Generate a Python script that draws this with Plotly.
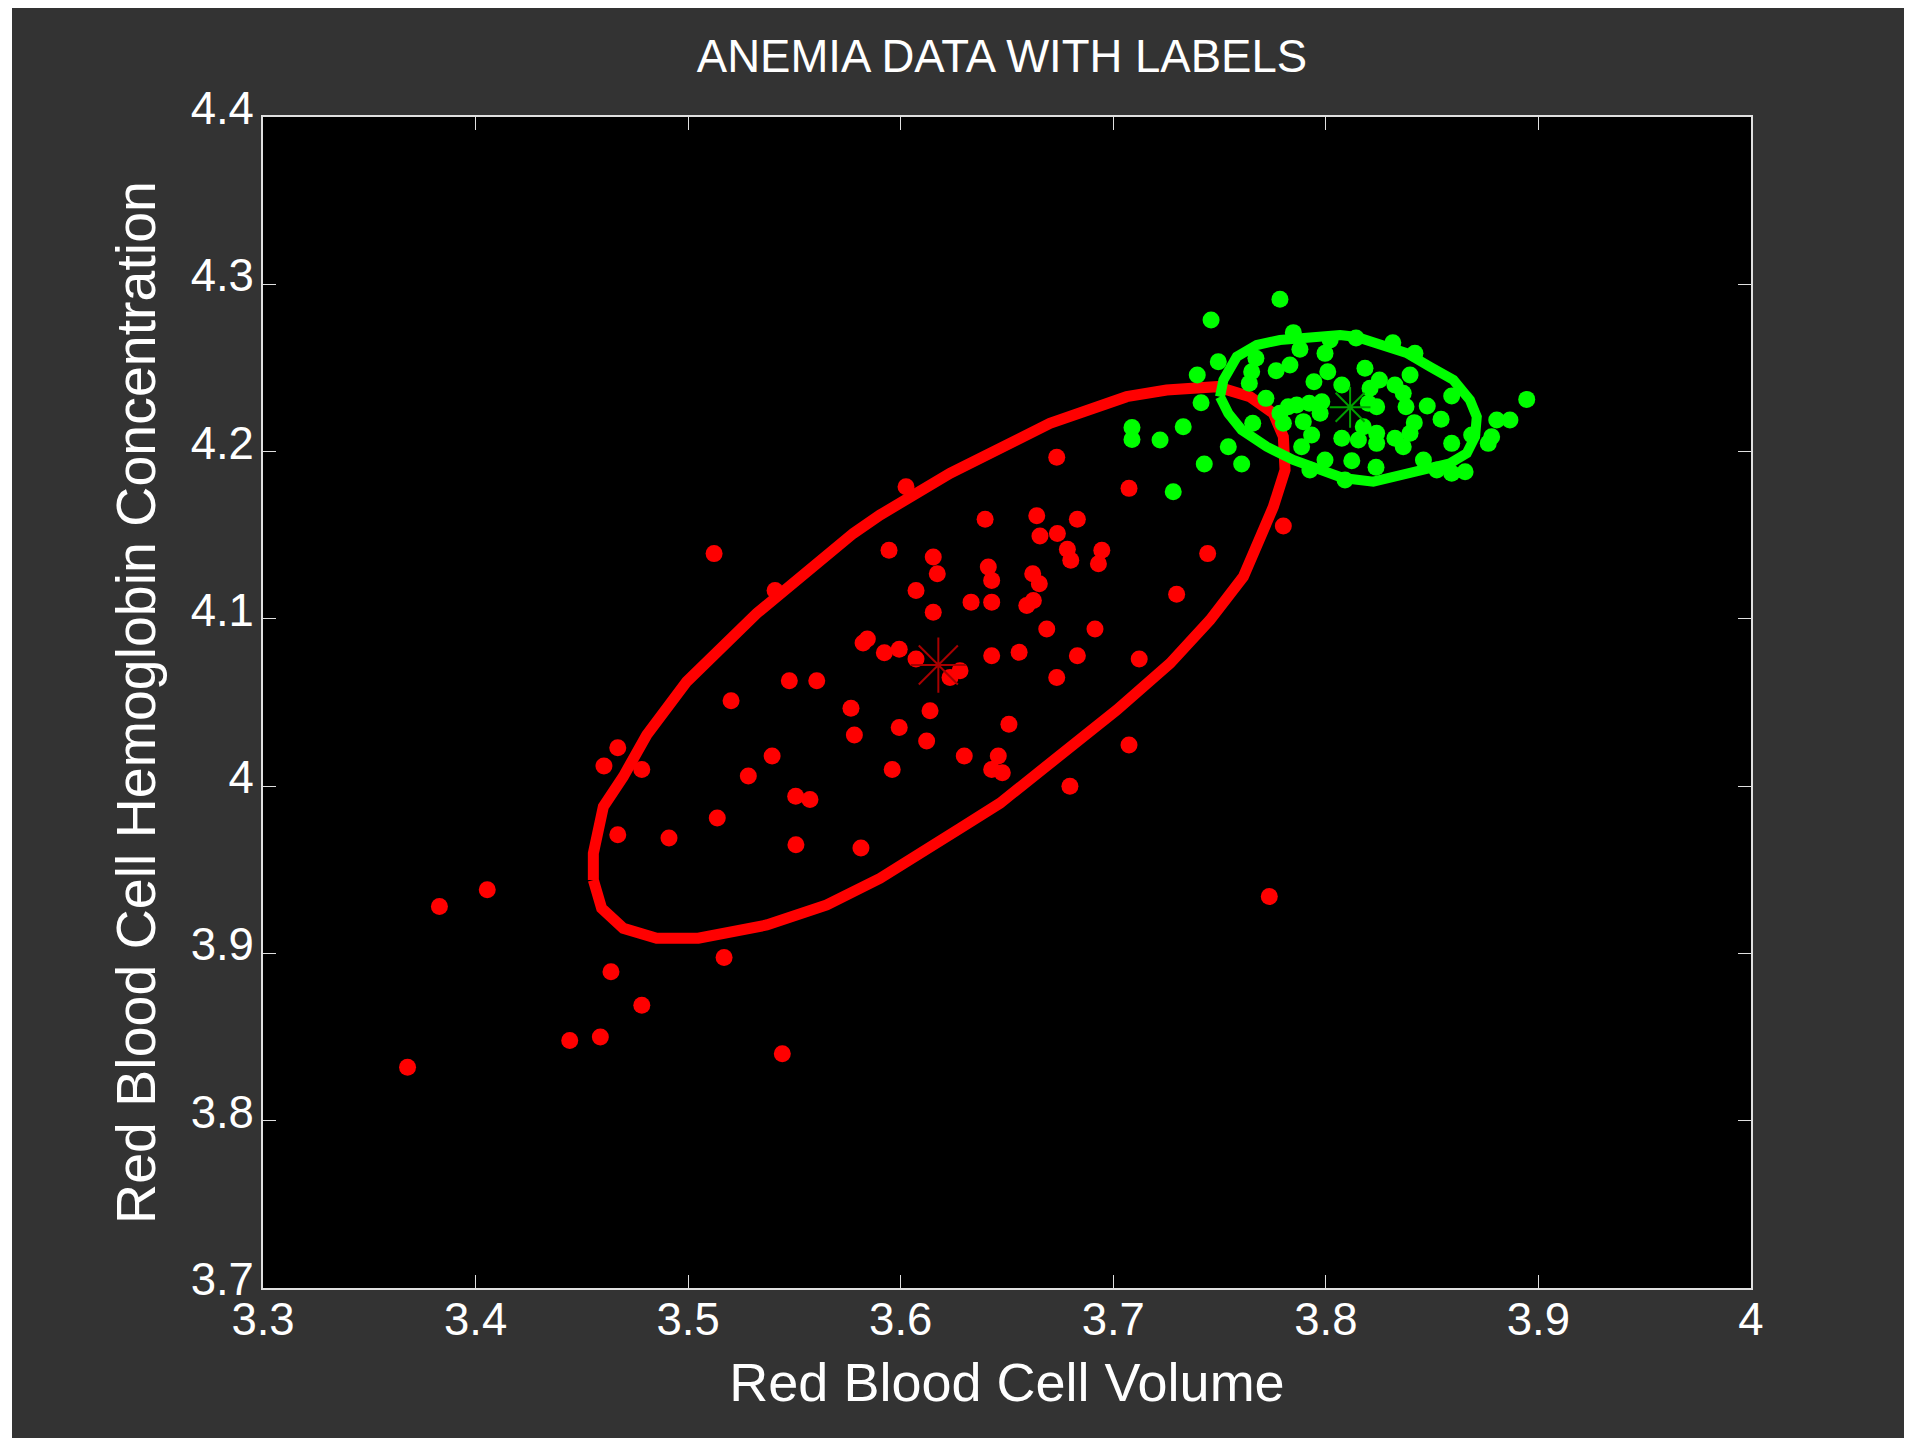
import plotly.graph_objects as go

# ---------------- data ----------------
red_x = [3.368, 3.383, 3.4055, 3.4443, 3.4587, 3.4637, 3.4782, 3.5169, 3.5443, 3.7734,
         3.4604, 3.4669, 3.4782, 3.4669, 3.4910, 3.5137, 3.5122, 3.5409, 3.5202, 3.5283,
         3.5395, 3.5476, 3.5605, 3.5506, 3.5573, 3.5507, 3.5813, 3.5766, 3.5782, 3.5843,
         3.5823, 3.5923, 3.5993, 3.5945, 3.6025, 3.6072, 3.6072, 3.6153, 3.6172, 3.6153,
         3.6232, 3.6279, 3.6331, 3.6397, 3.6412, 3.6428, 3.6428, 3.6428, 3.6138, 3.5993,
         3.6122, 3.5960, 3.6299, 3.6459, 3.6428, 3.6478, 3.6509, 3.6557, 3.6593, 3.6624,
         3.6621, 3.6652, 3.6640, 3.6655, 3.6737, 3.6734, 3.6687, 3.6734, 3.6784, 3.6800,
         3.6831, 3.6831, 3.6796, 3.6914, 3.6946, 3.6930, 3.7074, 3.7074, 3.7122, 3.7298,
         3.7444, 3.7800]
red_y = [3.832, 3.928, 3.938, 3.848, 3.850, 3.889, 3.869, 3.8975, 3.840, 3.934,
         4.012, 4.023, 4.010, 3.971, 3.969, 3.981, 4.139, 4.117, 4.051, 4.006,
         4.018, 4.063, 4.063, 3.994, 3.992, 3.965, 3.963, 4.0465, 4.0306, 4.088,
         4.0856, 4.0798, 4.0818, 4.141, 4.179, 4.117, 4.076, 4.137, 4.127, 4.104,
         4.065, 4.069, 4.110, 4.1595, 4.131, 4.123, 4.110, 4.078, 4.045, 4.035,
         4.027, 4.010, 4.018, 4.018, 4.010, 4.008, 4.037, 4.080, 4.108, 4.111,
         4.127, 4.121, 4.1617, 4.1495, 4.151, 4.1966, 4.094, 4.065, 4.1416, 4.135,
         4.1595, 4.078, 4.000, 4.094, 4.141, 4.133, 4.178, 4.0246, 4.076, 4.1147,
         4.139, 4.1555]

green_x = [3.7784, 3.7460, 3.7847, 3.7494, 3.7395, 3.7413, 3.7329, 3.7220, 3.7541, 3.7428,
           3.7604, 3.7282, 3.7671, 3.7651, 3.7640, 3.7718, 3.7766, 3.7831, 3.7878, 3.7996,
           3.8009, 3.7944, 3.8075, 3.8184, 3.8315, 3.8419, 3.8396, 3.8252, 3.8325, 3.8208,
           3.8364, 3.8377, 3.8200, 3.8239, 3.7784, 3.7823, 3.7863, 3.7922, 3.7981, 3.7973,
           3.7894, 3.7656, 3.7800, 3.8477, 3.8592, 3.8542, 3.8416, 3.8396, 3.8239, 3.8176,
           3.8075, 3.8153, 3.8325, 3.8364, 3.8239, 3.7933, 3.7886, 3.7996, 3.8122, 3.8236,
           3.8459, 3.8592, 3.8686, 3.8780, 3.8804, 3.8866, 3.8945, 3.8655, 3.8592, 3.8522,
           3.7925, 3.8090, 3.8764, 3.7088, 3.7088, 3.8020, 3.8142]
green_y = [4.2910, 4.2787, 4.2711, 4.2537, 4.2458, 4.2292, 4.2149, 4.2069, 4.2029, 4.1926,
           4.1926, 4.1760, 4.2558, 4.2477, 4.2408, 4.2318, 4.2483, 4.2518, 4.2611, 4.2587,
           4.2477, 4.2418, 4.2398, 4.2498, 4.2651, 4.2587, 4.2458, 4.2428, 4.2398, 4.2378,
           4.2348, 4.2268, 4.2289, 4.2268, 4.2229, 4.2268, 4.2278, 4.2289, 4.2298, 4.2229,
           4.2179, 4.2169, 4.2169, 4.2272, 4.2332, 4.2193, 4.2173, 4.2109, 4.2109, 4.2149,
           4.2079, 4.2069, 4.2079, 4.2029, 4.2049, 4.2099, 4.2029, 4.1950, 4.1945, 4.1906,
           4.1950, 4.2049, 4.2099, 4.2089, 4.2189, 4.2189, 4.2312, 4.1880, 4.1870, 4.1890,
           4.1890, 4.1830, 4.2049, 4.2144, 4.2072, 4.2667, 4.2679]

red_ellipse_x = [3.4554, 3.4554, 3.4601, 3.4695, 3.4805, 3.4993, 3.5323, 3.5495, 3.5589, 3.5777,
                 3.5903, 3.6232, 3.6702, 3.7063, 3.7251, 3.7487, 3.7643, 3.7753, 3.7800, 3.7808,
                 3.7753, 3.7690, 3.7612, 3.7455, 3.7267, 3.7016, 3.6702, 3.6467, 3.6279, 3.5903,
                 3.5652, 3.5370, 3.5048, 3.4852, 3.4695, 3.4593, 3.4554]
red_ellipse_y = [3.9439, 3.9599, 3.9877, 4.0057, 4.0306, 4.0624, 4.1033, 4.1213, 4.1312, 4.1511,
                 4.1621, 4.1870, 4.2169, 4.2328, 4.2368, 4.2388, 4.2328, 4.2229, 4.2089, 4.1890,
                 4.1670, 4.1491, 4.1252, 4.0993, 4.0734, 4.0455, 4.0137, 3.9898, 3.9748, 3.9449,
                 3.9290, 3.9170, 3.9091, 3.9091, 3.9150, 3.9270, 3.9439]

green_ellipse_x = [3.7502, 3.7518, 3.7581, 3.7675, 3.7784, 3.7925, 3.8067, 3.8145, 3.8255, 3.8380,
                   3.8490, 3.8600, 3.8678, 3.8710, 3.8702, 3.8663, 3.8584, 3.8459, 3.8349, 3.8223,
                   3.8081, 3.7957, 3.7847, 3.7722, 3.7604, 3.7541, 3.7502]
green_ellipse_y = [4.2328, 4.2428, 4.2567, 4.2637, 4.2667, 4.2687, 4.2697, 4.2685, 4.2637, 4.2589,
                   4.2507, 4.2428, 4.2308, 4.2208, 4.2089, 4.1990, 4.1930, 4.1890, 4.1850, 4.1820,
                   4.1842, 4.1900, 4.1950, 4.2029, 4.2129, 4.2229, 4.2328]

red_center = [3.6177, 4.0724]
green_center = [3.8114, 4.2265]

x_ticks = [3.3, 3.4, 3.5, 3.6, 3.7, 3.8, 3.9, 4.0]
x_tick_text = ["3.3", "3.4", "3.5", "3.6", "3.7", "3.8", "3.9", "4"]
y_ticks = [3.7, 3.8, 3.9, 4.0, 4.1, 4.2, 4.3, 4.4]
y_tick_text = ["3.7", "3.8", "3.9", "4", "4.1", "4.2", "4.3", "4.4"]

# ---------------- figure ----------------
FONT = "Liberation Sans, Arial, Helvetica, sans-serif"
# page body has an 8 px margin, so the figure is sized to end at the window edge
W, H = 1904, 1430
L, R, T, B = 255, 161, 109, 150

fig = go.Figure()

fig.add_trace(go.Scatter(x=red_ellipse_x, y=red_ellipse_y, mode="lines",
                         line=dict(color="#ff0000", width=11), hoverinfo="skip"))
fig.add_trace(go.Scatter(x=red_x, y=red_y, mode="markers",
                         marker=dict(color="#ff0000", size=17, line=dict(width=0))))
fig.add_trace(go.Scatter(x=green_x, y=green_y, mode="markers",
                         marker=dict(color="#00ff00", size=17, line=dict(width=0))))
fig.add_trace(go.Scatter(x=green_ellipse_x, y=green_ellipse_y, mode="lines",
                         line=dict(color="#00ff00", width=10), hoverinfo="skip"))
fig.add_trace(go.Scatter(x=[red_center[0]], y=[red_center[1]], mode="markers",
                         marker=dict(symbol="asterisk-open", size=46, color="#a80000",
                                     line=dict(color="#a80000", width=2))))
fig.add_trace(go.Scatter(x=[green_center[0]], y=[green_center[1]], mode="markers",
                         marker=dict(symbol="asterisk-open", size=34, color="#00a000",
                                     line=dict(color="#00a000", width=2))))

axis_common = dict(showgrid=False, zeroline=False, showline=True, mirror="ticks",
                   linecolor="#e0e0e0", linewidth=2, ticks="inside", ticklen=13,
                   tickwidth=1, tickcolor="#e0e0e0",
                   tickfont=dict(family=FONT, size=45.5, color="#ffffff"))

fig.update_xaxes(range=[3.3, 4.0], tickmode="array", tickvals=x_ticks, ticktext=x_tick_text,
                 ticklabelstandoff=-10,
                 title=dict(text="Red Blood Cell Volume",
                            font=dict(family=FONT, size=54, color="#ffffff"), standoff=20),
                 **axis_common)
fig.update_yaxes(range=[3.7, 4.4], tickmode="array", tickvals=y_ticks, ticktext=y_tick_text,
                 ticklabelstandoff=-2, ticklabelshift=-9,
                 title=dict(text="Red Blood Cell Hemoglobin Concentration",
                            font=dict(family=FONT, size=55.5, color="#ffffff"), standoff=17),
                 **axis_common)

# thin white strip along the left edge of the picture
def px_x(px):
    return (px - L) / (W - L - R)

def px_y(py):
    return (H - B - py) / (H - T - B)

fig.add_shape(type="rect", xref="paper", yref="paper", layer="below",
              x0=px_x(-2), x1=px_x(4), y0=px_y(H + 5), y1=px_y(-5),
              fillcolor="#ffffff", line=dict(width=0))

fig.update_layout(
    width=W, height=H,
    margin=dict(l=L, r=R, t=T, b=B, autoexpand=False),
    paper_bgcolor="#333333", plot_bgcolor="#000000",
    showlegend=False,
    title=dict(text="ANEMIA DATA WITH LABELS", x=0.4966, xref="paper", xanchor="center",
               y=1 - 48 / H, yref="container", yanchor="middle",
               font=dict(family=FONT, size=45.5, color="#ffffff")),
)

fig.write_html("out.html")
